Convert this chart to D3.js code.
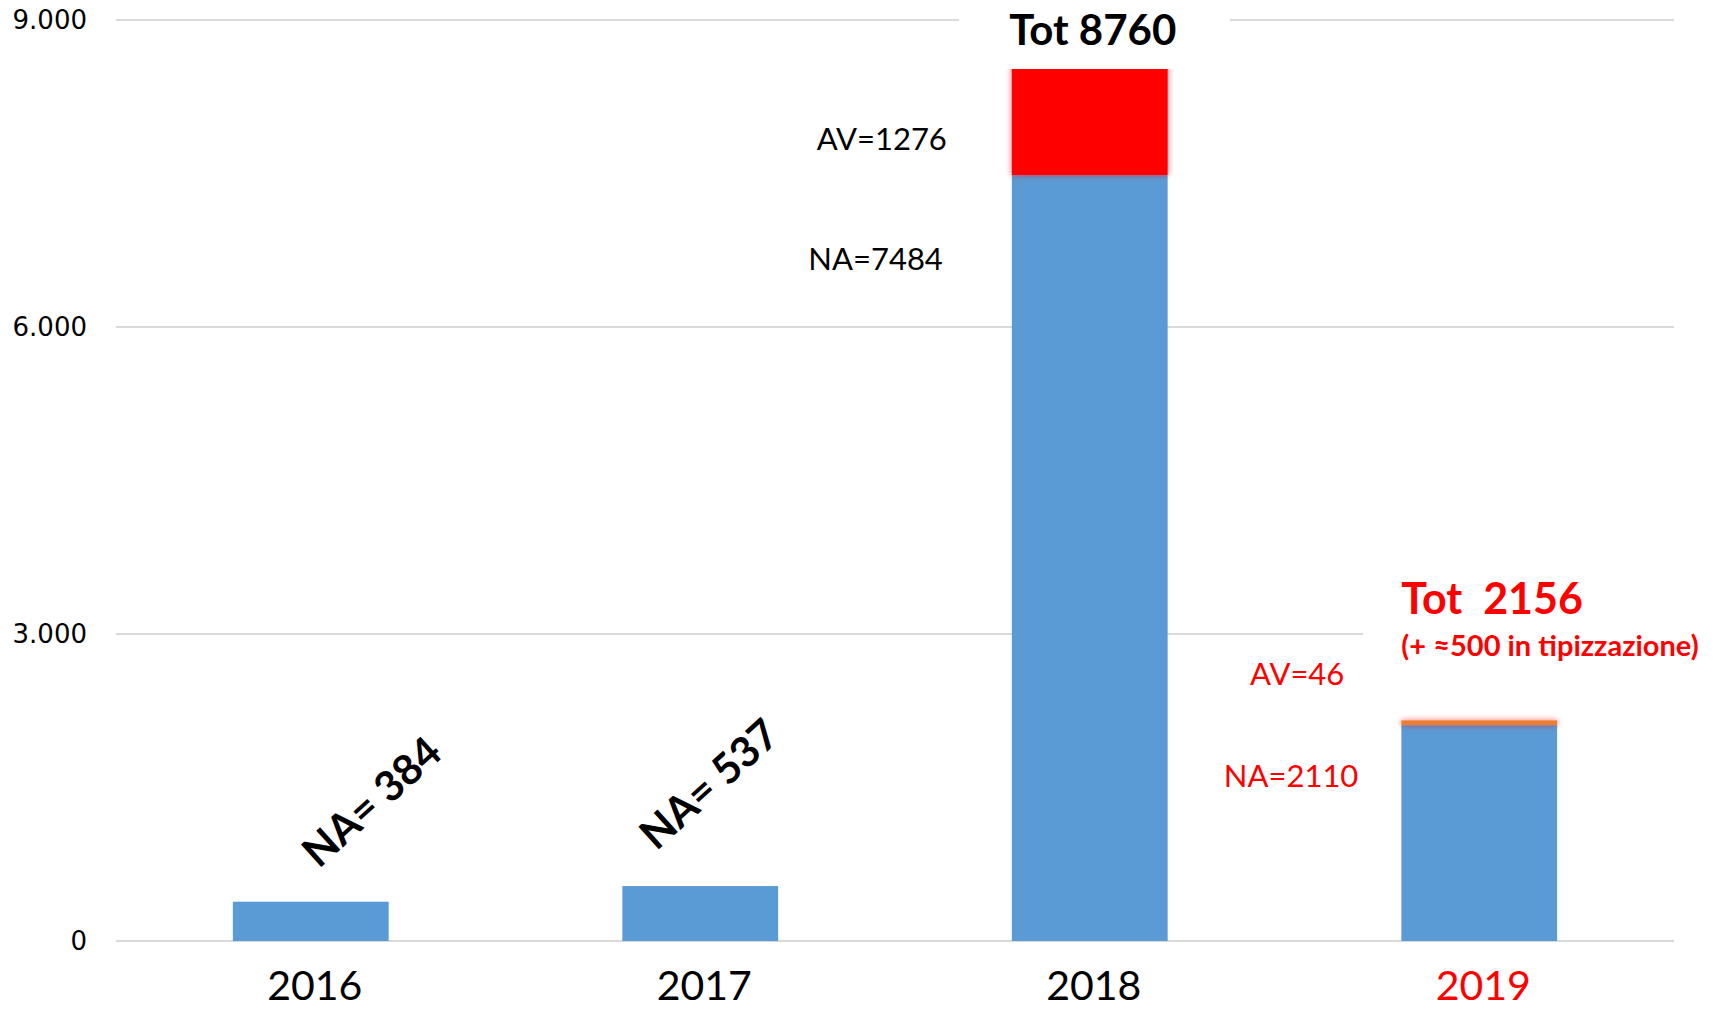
<!DOCTYPE html>
<html>
<head>
<meta charset="utf-8">
<script src="https://cdn.jsdelivr.net/npm/d3@7"></script>
<style>
  body { margin: 0; background: #fff; }
  svg { display: block; }
</style>
</head>
<body>
<svg id="chart"></svg>
<script>
// data
const years = ["2016", "2017", "2018", "2019"];
const naValues = [384, 537, 7484, 2110];
const avValues = [0, 0, 1276, 46];
const yTicks = [0, 3000, 6000, 9000];

const width = 1716, height = 1010;
const x0 = 116, x1 = 1674, yTop = 20, yBottom = 941;

const rows = years.map((y, i) => ({year: y, NA: naValues[i], AV: avValues[i]}));
const stacked = d3.stack().keys(["NA", "AV"])(rows);

const svg = d3.select("#chart")
    .attr("width", width)
    .attr("height", height);

// soft red glow like the original slide
const defs = svg.append("defs");
const glow = defs.append("filter").attr("id", "glow")
    .attr("x", "-20%").attr("y", "-20%").attr("width", "140%").attr("height", "140%");
glow.append("feFlood").attr("flood-color", "#ff0000").attr("flood-opacity", 0.6).attr("result", "c");
glow.append("feComposite").attr("in", "c").attr("in2", "SourceAlpha").attr("operator", "in").attr("result", "s");
glow.append("feGaussianBlur").attr("in", "s").attr("stdDeviation", 3).attr("result", "b");
const merge = glow.append("feMerge");
merge.append("feMergeNode").attr("in", "b");
merge.append("feMergeNode").attr("in", "SourceGraphic");

const xScale = d3.scaleBand()
    .domain(years)
    .range([x0, x1])
    .paddingInner(0.6)
    .paddingOuter(0.3);

const yScale = d3.scaleLinear()
    .domain([0, 9000])
    .range([yBottom, yTop]);

const fmt = d3.formatLocale({decimal: ",", thousands: ".", grouping: [3], currency: ["", ""]}).format(",");

// gridlines
svg.append("g")
    .selectAll("line")
    .data(yTicks)
    .join("line")
    .attr("x1", x0)
    .attr("x2", x1)
    .attr("y1", d => yScale(d))
    .attr("y2", d => yScale(d))
    .attr("stroke", "#d9d9d9")
    .attr("stroke-width", 2);

// y axis labels
const yAxis = d3.axisLeft(yScale).tickValues(yTicks).tickFormat(fmt).tickSize(0).tickPadding(0);
const yAxisG = svg.append("g")
    .attr("transform", `translate(87,0)`)
    .call(yAxis);
yAxisG.select(".domain").remove();
yAxisG.selectAll("text")
    .attr("font-family", "DejaVu Sans, Verdana, sans-serif")
    .attr("font-size", 26)
    .attr("fill", "#000")
    .attr("dy", "0.32em");

// bars
const colors = {NA: "#5b9bd5", AV: "#ff0000"};
svg.append("g")
    .selectAll("g")
    .data(stacked)
    .join("g")
    .attr("filter", d => d.key === "AV" ? "url(#glow)" : null)
    .selectAll("rect")
    .data(d => d.map(v => ({key: d.key, year: v.data.year, y0: v[0], y1: v[1]})))
    .join("rect")
    .attr("x", d => xScale(d.year))
    .attr("width", xScale.bandwidth())
    .attr("y", d => yScale(d.y1))
    .attr("height", d => yScale(d.y0) - yScale(d.y1))
    .attr("fill", d => d.key === "AV" && d.year === "2019" ? "#ed7d31" : colors[d.key]);

// x axis labels
const xAxis = d3.axisBottom(xScale).tickSize(0).tickPadding(0);
const xAxisG = svg.append("g")
    .attr("transform", `translate(4,${yBottom})`)
    .call(xAxis);
xAxisG.select(".domain").remove();
xAxisG.selectAll("text")
    .attr("font-family", "Lato, sans-serif")
    .attr("font-size", 41)
    .attr("dy", "1.45em")
    .attr("fill", d => d === "2019" ? "#ff0000" : "#000");

const font = "Lato, sans-serif";

// rotated labels over the small bars
const rotOffsets = [[61, -100], [9, -102]];
[0, 1].forEach(i => {
    const cx = xScale(years[i]) + xScale.bandwidth() / 2;
    const cy = yScale(naValues[i]);
    svg.append("text")
        .attr("transform", `translate(${cx + rotOffsets[i][0]},${cy + rotOffsets[i][1]}) rotate(-42)`)
        .attr("text-anchor", "middle")
        .attr("dy", "0.35em")
        .attr("font-family", font)
        .attr("font-weight", "bold")
        .attr("font-size", 42)
        .attr("fill", "#000")
        .text("NA= " + naValues[i]);
});

// 2018 annotations
const b18 = xScale("2018");
const tot18 = naValues[2] + avValues[2];
svg.append("rect")
    .attr("x", b18 - 53)
    .attr("y", 0)
    .attr("width", 271)
    .attr("height", 69)
    .attr("fill", "#fff");
svg.append("text")
    .attr("x", b18 + xScale.bandwidth() / 2 + 3)
    .attr("y", 45)
    .attr("text-anchor", "middle")
    .attr("font-family", font)
    .attr("font-weight", "bold")
    .attr("font-size", 42)
    .attr("fill", "#000")
    .text("Tot " + tot18);
svg.append("text")
    .attr("x", b18 - 65)
    .attr("y", yScale(tot18) + 105)
    .attr("text-anchor", "end")
    .attr("font-family", font)
    .attr("font-size", 31)
    .attr("fill", "#000")
    .text("AV=" + avValues[2]);
svg.append("text")
    .attr("x", b18 - 69)
    .attr("y", yScale(naValues[2]) + 95)
    .attr("text-anchor", "end")
    .attr("font-family", font)
    .attr("font-size", 31)
    .attr("fill", "#000")
    .text("NA=" + naValues[2]);

// 2019 annotations
const b19 = xScale("2019");
const tot19 = naValues[3] + avValues[3];
svg.append("rect")
    .attr("x", 1363)
    .attr("y", yScale(3000) - 80)
    .attr("width", width - 1363)
    .attr("height", 110)
    .attr("fill", "#fff");
svg.append("text")
    .attr("x", b19)
    .attr("y", 614)
    .attr("font-family", font)
    .attr("font-weight", "bold")
    .attr("font-size", 43)
    .attr("fill", "#ff0000")
    .attr("xml:space", "preserve")
    .text("Tot  " + tot19);
svg.append("text")
    .attr("x", b19)
    .attr("y", 656)
    .attr("font-family", font)
    .attr("font-weight", "bold")
    .attr("font-size", 29)
    .attr("fill", "#ff0000")
    .text("(+ \u2248500 in tipizzazione)");
svg.append("text")
    .attr("x", b19 - 57)
    .attr("y", 685)
    .attr("text-anchor", "end")
    .attr("font-family", font)
    .attr("font-size", 31)
    .attr("fill", "#ff0000")
    .text("AV=" + avValues[3]);
svg.append("text")
    .attr("x", b19 - 43)
    .attr("y", 787)
    .attr("text-anchor", "end")
    .attr("font-family", font)
    .attr("font-size", 31)
    .attr("fill", "#ff0000")
    .text("NA=" + naValues[3]);
</script>
</body>
</html>
